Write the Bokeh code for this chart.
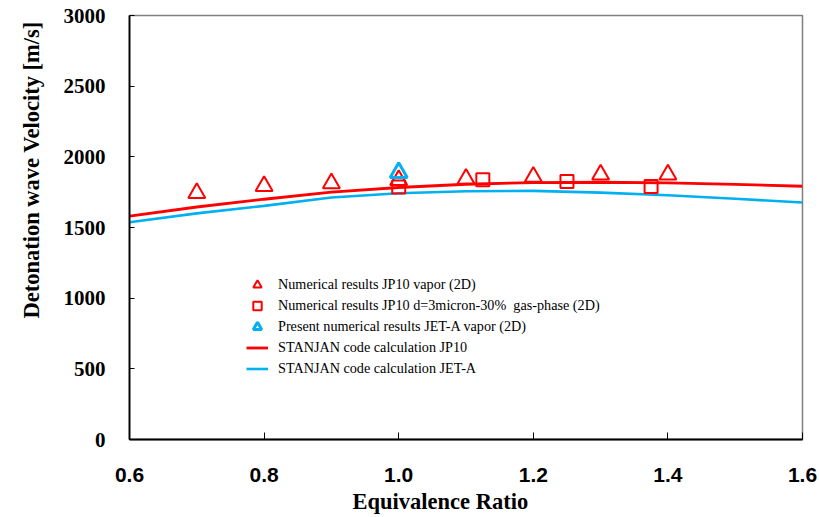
from bokeh.plotting import figure
from bokeh.models import Range1d, FixedTicker, Legend, LegendItem, Title
from bokeh.embed import file_html
from bokeh.resources import INLINE

# ---- data ----
jp10_vapor_phi = [0.7, 0.8, 0.9, 1.0, 1.1, 1.2, 1.3, 1.4]
jp10_vapor_v = [1744, 1793, 1813, 1835, 1844, 1859, 1874, 1874]

jp10_spray_phi = [1.0, 1.125, 1.25, 1.375]
jp10_spray_v = [1787, 1838, 1826, 1790]

jeta_vapor_phi = [1.0]
jeta_vapor_v = [1888]

stanjan_phi = [0.6, 0.7, 0.8, 0.9, 1.0, 1.1, 1.2, 1.3, 1.4, 1.5, 1.6]
stanjan_jp10_v = [1580, 1645, 1700, 1750, 1783, 1806, 1818, 1820, 1816, 1805, 1792]
stanjan_jeta_v = [1537, 1600, 1653, 1712, 1742, 1757, 1759, 1747, 1728, 1703, 1677]

x_ticks = [0.6, 0.8, 1.0, 1.2, 1.4, 1.6]
y_ticks = [0, 500, 1000, 1500, 2000, 2500, 3000]

x_title = "Equivalence Ratio"
y_title = "Detonation wave Velocity [m/s]"
legend_labels = [
    "Numerical results JP10 vapor (2D)",
    "Numerical results JP10 d=3micron-30%  gas-phase (2D)",
    "Present numerical results JET-A vapor (2D)",
    "STANJAN code calculation JP10",
    "STANJAN code calculation JET-A",
]

RED = "#FF0000"
CYAN = "#00B0F0"

p = figure(width=819, height=517, output_backend="svg", toolbar_location=None,
           x_range=Range1d(0.6, 1.6), y_range=Range1d(0, 3000),
           min_border_left=129, min_border_right=17, min_border_top=15,
           min_border_bottom=78)
p.grid.visible = False
p.outline_line_color = "#808080"
p.outline_line_width = 1.5
p.background_fill_color = "white"

for ax in (p.xaxis[0], p.yaxis[0]):
    ax.axis_line_color = "black"
    ax.axis_line_width = 1.8
    ax.major_tick_line_color = "black"
    ax.major_tick_line_width = 1
    ax.minor_tick_line_color = None
    ax.major_tick_out = 0
    ax.axis_label = None

p.xaxis.ticker = FixedTicker(ticks=x_ticks)
p.xaxis.major_label_overrides = {t: "%.1f" % t for t in x_ticks}
p.xaxis.major_tick_in = 7
p.xaxis.major_label_standoff = 28
p.xaxis.major_label_text_font = "Liberation Sans"
p.xaxis.major_label_text_font_style = "bold"
p.xaxis.major_label_text_font_size = "21px"
p.xaxis.major_label_text_color = "black"

p.yaxis.ticker = FixedTicker(ticks=y_ticks)
p.yaxis.major_tick_in = 5
p.yaxis.major_label_standoff = 24
p.yaxis.major_label_text_font = "Liberation Serif"
p.yaxis.major_label_text_font_style = "bold"
p.yaxis.major_label_text_font_size = "21px"
p.yaxis.major_label_text_color = "black"

# axis titles as side titles (allow an offset along the axis)
xt = Title(text=x_title, align="left", offset=223, standoff=5,
           text_font="Liberation Serif", text_font_style="bold",
           text_font_size="22.5px", text_color="black")
p.add_layout(xt, "below")
yt = Title(text=y_title, align="left", offset=121, standoff=33,
           text_font="Liberation Serif", text_font_style="bold",
           text_font_size="22.5px", text_color="black")
p.add_layout(yt, "left")

# curves
l_jp10 = p.line(stanjan_phi, stanjan_jp10_v, line_color=RED, line_width=2.8)
l_jeta = p.line(stanjan_phi, stanjan_jeta_v, line_color=CYAN, line_width=2.6)

# markers
m_vap = p.scatter(jp10_vapor_phi, jp10_vapor_v, marker="triangle", size=17,
                  fill_color=None, line_color=RED, line_width=2)
m_spr = p.scatter(jp10_spray_phi, jp10_spray_v, marker="square", size=13,
                  fill_color=None, line_color=RED, line_width=2)
m_jet = p.scatter(jeta_vapor_phi, jeta_vapor_v, marker="triangle", size=17,
                  fill_color=None, line_color=CYAN, line_width=3)

legend = Legend(items=[
    LegendItem(label=legend_labels[0], renderers=[m_vap]),
    LegendItem(label=legend_labels[1], renderers=[m_spr]),
    LegendItem(label=legend_labels[2], renderers=[m_jet]),
    LegendItem(label=legend_labels[3], renderers=[l_jp10]),
    LegendItem(label=legend_labels[4], renderers=[l_jeta]),
], location=(117, 60))
legend.padding = 0
legend.margin = 0
legend.spacing = 0
legend.border_line_color = None
legend.background_fill_alpha = 0
legend.glyph_width = 22
legend.glyph_height = 21
legend.label_height = 21
legend.label_standoff = 10
legend.label_text_font = "Liberation Serif"
legend.label_text_font_size = "14.2px"
legend.label_text_color = "black"
p.add_layout(legend, "center")

open("out.html", "w").write(file_html(p, INLINE))
